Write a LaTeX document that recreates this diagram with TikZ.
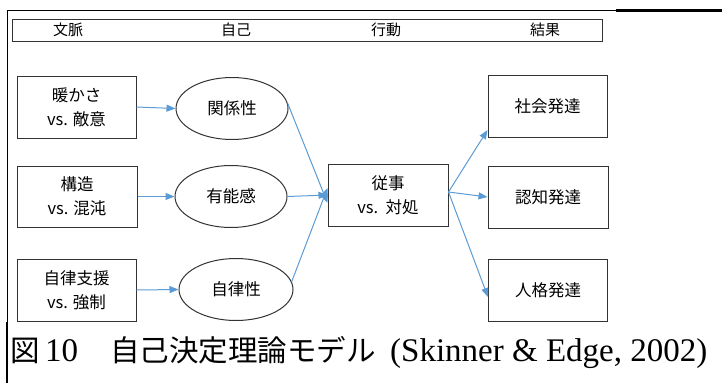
\documentclass[tikz,border=0pt]{standalone}
\usepackage{fontspec}
\setmainfont{Liberation Serif}
\newfontfamily\jp{Noto Sans CJK JP}
\usetikzlibrary{arrows.meta,shapes.geometric}
\begin{document}
\begin{tikzpicture}[x=1pt,y=-1pt,
  box/.style={draw=black!80, line width=1pt, inner sep=0pt, minimum width=119pt, minimum height=62pt,
    align=center, font=\jp\fontsize{16.5}{24}\selectfont},
  oval/.style={draw=black!80, line width=1pt, ellipse, inner sep=0pt, minimum width=112pt, minimum height=62pt,
    font=\jp\fontsize{16.5}{24}\selectfont},
  hdr/.style={font=\jp\fontsize{15}{16}\selectfont, inner sep=0pt},
  conn/.style={draw={rgb,255:red,91;green,155;blue,213}, line width=1pt,
    -{Triangle[length=9pt,width=7pt]}},
  frame/.style={draw=black, line width=1pt},
  capjp/.style={anchor=base west, inner sep=0pt, font=\jp\fontsize{29.5}{32}\selectfont},
  caplat/.style={anchor=base west, inner sep=0pt, font=\fontsize{33}{36}\selectfont}
]
\useasboundingbox (0,0) rectangle (722,383);
% frame lines
\coordinate (fa) at (7,383);
\coordinate (fb) at (7,10.5);
\coordinate (fc) at (616,10.5);
\coordinate (fd) at (722,10.5);
\coordinate (fe) at (7,322);
\draw[frame] (fa) -- (fb) -- (fc);
\draw[draw=black, line width=2.2pt] (fc) -- (fd);
\draw[draw=black, line width=2pt] (fe) -- (fa);
% header
\node[draw=black!80, line width=1pt, minimum width=590pt, minimum height=22pt, inner sep=0pt] (hd) at (307.5,30) {};
\node[hdr] (h1) at (68,30) {文脈};
\node[hdr] (h2) at (236,30) {自己};
\node[hdr] (h3) at (386,30) {行動};
\node[hdr] (h4) at (545,30) {結果};
% left boxes
\node[box] (b1) at (76.5,107) {暖かさ\\vs. 敵意};
\node[box, minimum width=120pt, minimum height=61pt] (b2) at (77,196.5) {構造\\vs. 混沌};
\node[box] (b3) at (76.5,290) {自律支援\\vs. 強制};
% ellipses
\node[oval] (e1) at (232,108.5) {関係性};
\node[oval] (e2) at (231,196.5) {有能感};
\node[oval, minimum width=114pt] (e3) at (236,289.5) {自律性};
% centre
\node[box, minimum width=120pt, minimum height=62pt] (c) at (388,195) {従事\\vs.\ \ 対処};
% right boxes
\node[box] (r1) at (547.5,106.5) {社会発達};
\node[box, minimum width=120pt] (r2) at (548,197) {認知発達};
\node[box] (r3) at (548,290) {人格発達};
% arrows
\draw[conn] (b1.east) -- (e1.west);
\draw[conn] (b2.east) -- (e2.west);
\draw[conn] (b3.east) -- (e3.west);
\draw[conn] (e1.5) -- ([yshift=-8pt]c.west);
\draw[conn] (e2.east) -- ([yshift=0pt]c.west);
\draw[conn] (e3.8) -- ([yshift=7pt]c.west);
\draw[conn] ([yshift=3pt]c.east) -- ([yshift=8pt]r1.south west);
\draw[conn] ([yshift=3pt]c.east) -- (r2.west);
\draw[conn] ([yshift=3pt]c.east) -- ([yshift=-7pt]r3.west);
% caption
\node[capjp] (cap1) at (10,361) {図};
\node[caplat] (cap2) at (45,361) {10};
\node[capjp] (cap3) at (110,361) {自己決定理論モデル};
\node[caplat] (cap4) at (390,361) {(Skinner \& Edge, 2002)};
\end{tikzpicture}
\end{document}
